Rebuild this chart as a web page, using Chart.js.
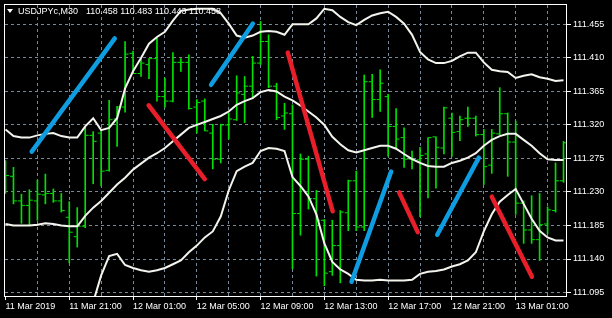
<!DOCTYPE html>
<html>
<head>
<meta charset="utf-8">
<script src="https://cdn.jsdelivr.net/npm/chart.js@4.4.1/dist/chart.umd.min.js"></script>
<style>
  html, body { margin: 0; background: #000; }
  #wrap { position: relative; width: 612px; height: 318px; }
  .hdr { position: absolute; top: 6px; color: #fff; font: 9px "Liberation Sans"; line-height: 10px; white-space: pre; }
  #arrow { position: absolute; left: 7px; top: 9px; width: 0; height: 0;
           border-left: 3px solid transparent; border-right: 3px solid transparent; border-top: 4px solid #fff; }
</style>
</head>
<body>
<div id="wrap">
  <canvas id="chart" width="612" height="318"></canvas>
  <div id="arrow"></div>
  <div class="hdr" style="left:18px">USDJPYc,M30</div>
  <div class="hdr" style="left:86px">110.458 110.483 110.443 110.458</div>
</div>
<script>
// USDJPYc M30 bars, 11 Mar 17:00 .. 13 Mar 04:00
const opens = [111.258, 111.251, 111.218, 111.212, 111.218, 111.226, 111.228, 111.218, 111.196, 111.170,
  111.184, 111.306, 111.309, 111.259, 111.328, 111.344, 111.416, 111.389, 111.401, 111.409,
  111.358, 111.352, 111.404, 111.404, 111.344, 111.352, 111.309, 111.274, 111.320, 111.327,
  111.361, 111.372, 111.403, 111.432, 111.372, 111.332, 111.335, 111.201, 111.274, 111.221,
  111.192, 111.123, 111.158, 111.202, 111.245, 111.183, 111.378, 111.354, 111.358, 111.318,
  111.303, 111.274, 111.273, 111.281, 111.304, 111.289, 111.329, 111.311, 111.329, 111.329,
  111.307, 111.266, 111.308, 111.335, 111.297, 111.215, 111.179, 111.166, 111.187, 111.205,
  111.245];
const highs = [111.272, 111.263, 111.227, 111.233, 111.246, 111.254, 111.234, 111.228, 111.217, 111.209,
  111.318, 111.311, 111.312, 111.353, 111.345, 111.432, 111.419, 111.409, 111.409, 111.437,
  111.383, 111.417, 111.409, 111.414, 111.354, 111.355, 111.321, 111.321, 111.336, 111.386,
  111.385, 111.412, 111.459, 111.441, 111.376, 111.349, 111.347, 111.281, 111.278, 111.232,
  111.193, 111.192, 111.205, 111.246, 111.258, 111.387, 111.388, 111.394, 111.361, 111.342,
  111.316, 111.285, 111.290, 111.303, 111.304, 111.344, 111.336, 111.332, 111.344, 111.332,
  111.314, 111.314, 111.370, 111.336, 111.325, 111.218, 111.225, 111.228, 111.210, 111.269,
  111.298];
const lows = [111.228, 111.214, 111.188, 111.185, 111.192, 111.214, 111.216, 111.203, 111.135, 111.156,
  111.182, 111.241, 111.238, 111.258, 111.291, 111.337, 111.389, 111.385, 111.382, 111.352,
  111.344, 111.351, 111.392, 111.341, 111.309, 111.312, 111.261, 111.269, 111.301, 111.326,
  111.323, 111.356, 111.401, 111.370, 111.327, 111.314, 111.127, 111.172, 111.207, 111.117,
  111.104, 111.118, 111.108, 111.178, 111.178, 111.178, 111.330, 111.338, 111.278, 111.289,
  111.263, 111.261, 111.197, 111.222, 111.235, 111.281, 111.278, 111.299, 111.318, 111.305,
  111.240, 111.255, 111.307, 111.251, 111.200, 111.161, 111.161, 111.138, 111.174, 111.203,
  111.243];
const closes = [111.252, 111.218, 111.212, 111.219, 111.227, 111.228, 111.218, 111.205, 111.176, 111.184,
  111.306, 111.298, 111.258, 111.327, 111.344, 111.415, 111.389, 111.403, 111.409, 111.358,
  111.352, 111.404, 111.404, 111.342, 111.350, 111.312, 111.274, 111.320, 111.328, 111.363,
  111.372, 111.403, 111.432, 111.372, 111.330, 111.336, 111.201, 111.274, 111.221, 111.192,
  111.121, 111.158, 111.203, 111.245, 111.183, 111.378, 111.354, 111.376, 111.318, 111.301,
  111.274, 111.273, 111.279, 111.303, 111.290, 111.343, 111.310, 111.327, 111.329, 111.307,
  111.264, 111.309, 111.335, 111.297, 111.215, 111.179, 111.166, 111.186, 111.206, 111.245,
  111.296];

// Bollinger bands
const bandUpper = [111.314, 111.305, 111.303, 111.303, 111.306, 111.308, 111.309, 111.305, 111.303, 111.303,
  111.318, 111.329, 111.313, 111.316, 111.329, 111.369, 111.392, 111.410, 111.429, 111.438,
  111.445, 111.460, 111.473, 111.475, 111.476, 111.476, 111.476, 111.470, 111.456, 111.440,
  111.437, 111.440, 111.445, 111.446, 111.445, 111.441, 111.455, 111.455, 111.455, 111.463,
  111.476, 111.474, 111.465, 111.458, 111.454, 111.461, 111.467, 111.470, 111.472, 111.465,
  111.456, 111.441, 111.418, 111.408, 111.403, 111.403, 111.406, 111.412, 111.417, 111.417,
  111.404, 111.394, 111.392, 111.391, 111.383, 111.386, 111.388, 111.384, 111.382, 111.379,
  111.380];
const bandMiddle = [111.187, 111.185, 111.185, 111.185, 111.186, 111.188, 111.187, 111.185, 111.184, 111.184,
  111.198, 111.209, 111.218, 111.229, 111.240, 111.249, 111.260, 111.268, 111.276, 111.282,
  111.289, 111.298, 111.307, 111.316, 111.320, 111.324, 111.328, 111.332, 111.338, 111.347,
  111.352, 111.356, 111.364, 111.367, 111.365, 111.358, 111.353, 111.346, 111.338, 111.330,
  111.320, 111.304, 111.294, 111.286, 111.283, 111.286, 111.289, 111.292, 111.292, 111.288,
  111.281, 111.274, 111.269, 111.265, 111.264, 111.264, 111.269, 111.272, 111.276, 111.282,
  111.292, 111.300, 111.305, 111.308, 111.308, 111.300, 111.292, 111.282, 111.274, 111.273,
  111.273];
const bandLower = [null, null, null, null, null, null, null, null, null, null,
  null, 111.082, 111.118, 111.144, 111.147, 111.132, 111.128, 111.125, 111.123, 111.125,
  111.128, 111.133, 111.138, 111.149, 111.158, 111.169, 111.177, 111.197, 111.232, 111.258,
  111.264, 111.269, 111.285, 111.289, 111.288, 111.285, 111.250, 111.238, 111.224, 111.200,
  111.161, 111.136, 111.126, 111.120, 111.112, 111.111, 111.111, 111.112, 111.111, 111.111,
  111.111, 111.112, 111.120, 111.123, 111.124, 111.126, 111.130, 111.133, 111.138, 111.149,
  111.177, 111.200, 111.217, 111.226, 111.234, 111.214, 111.194, 111.178, 111.169, 111.165,
  111.165];

// hand drawn trend lines: [barFrom, priceFrom, barTo, priceTo]
const blueLines = [
  [3.29, 111.2841, 13.71, 111.4361],
  [25.79, 111.3739, 31.04, 111.4561],
  [43.41, 111.1094, 48.38, 111.2574],
  [54.16, 111.1726, 59.38, 111.2761]
];
const redLines = [
  [17.96, 111.3463, 25.0, 111.2473],
  [35.41, 111.4170, 41.04, 111.2041],
  [49.38, 111.2294, 51.71, 111.1761],
  [61.0, 111.2237, 66.04, 111.1161]
];

const xTickBars = [0, 4, 8, 12, 16, 20, 24, 28, 32, 36, 40, 44, 48, 52, 56, 60, 64, 68];
const xLabels = ['11 Mar 2019', '11 Mar 21:00', '12 Mar 01:00', '12 Mar 05:00', '12 Mar 09:00',
  '12 Mar 13:00', '12 Mar 17:00', '12 Mar 21:00', '13 Mar 01:00'];
const yTicks = [111.095, 111.140, 111.185, 111.230, 111.275, 111.320, 111.365, 111.410, 111.455];

const barGreen = '#00e000';
const bandWhite = '#f4f4ee';
const gridGrey = '#778899';

const datasets = [];

blueLines.concat(redLines).forEach((l, k) => {
  datasets.push({
    type: 'line',
    data: [{x: l[0], y: l[1]}, {x: l[2], y: l[3]}],
    borderColor: k < blueLines.length ? '#0f9de2' : '#e81e2b',
    borderWidth: 4.5,
    borderCapStyle: 'round',
    pointRadius: 0,
    order: 0
  });
});

[bandUpper, bandMiddle, bandLower].forEach(b => {
  datasets.push({
    type: 'line',
    data: b.map((v, i) => ({x: i, y: v})),
    borderColor: bandWhite,
    borderWidth: 2,
    pointRadius: 0,
    tension: 0,
    spanGaps: false,
    order: 1
  });
});

// open tick to the left of the bar, close tick to the right
datasets.push({
  type: 'line',
  data: opens.map((v, i) => ({x: i - 0.25, y: v})),
  showLine: false,
  pointStyle: 'line',
  pointRadius: 1.5,
  pointBorderWidth: 1,
  pointBorderColor: barGreen,
  order: 2
});
datasets.push({
  type: 'line',
  data: closes.map((v, i) => ({x: i + 0.25, y: v})),
  showLine: false,
  pointStyle: 'line',
  pointRadius: 1.5,
  pointBorderWidth: 1,
  pointBorderColor: barGreen,
  order: 2
});

datasets.push({
  type: 'bar',
  data: highs.map((h, i) => ({x: i, y: [lows[i], h]})),
  backgroundColor: barGreen,
  barThickness: 1,
  grouped: false,
  order: 3
});

const frame = {
  id: 'frame',
  afterDatasetsDraw(chart) {
    const a = chart.chartArea;
    const ctx = chart.ctx;
    ctx.save();
    ctx.strokeStyle = '#ffffff';
    ctx.lineWidth = 1;
    ctx.strokeRect(a.left - 0.5, a.top - 0.5, a.right - a.left, a.bottom - a.top);
    ctx.restore();
  }
};

Chart.defaults.font.family = 'Liberation Sans';

new Chart(document.getElementById('chart'), {
  type: 'line',
  data: { datasets: datasets },
  plugins: [frame],
  options: {
    responsive: false,
    animation: false,
    events: [],
    layout: { padding: { left: 3, top: 3, right: 0, bottom: 0 } },
    plugins: { legend: { display: false }, tooltip: { enabled: false } },
    scales: {
      x: {
        type: 'linear',
        min: -0.0625,
        max: 70.4375,
        offset: false,
        afterBuildTicks: s => { s.ticks = xTickBars.map(v => ({value: v})); },
        afterFit: s => { s.height = 21; s.paddingLeft = 0; s.paddingRight = 0; },
        ticks: {
          autoSkip: false,
          maxRotation: 0,
          align: 'start',
          padding: 1,
          color: '#ffffff',
          font: { size: 9 },
          callback: v => (v % 8 === 0 ? xLabels[v / 8] : '')
        },
        grid: {
          offset: false,
          color: c => (c.tick && c.tick.value === 0 ? 'rgba(0,0,0,0)' : gridGrey),
          tickColor: c => (c.tick && c.tick.value % 8 === 0 ? '#ffffff' : 'rgba(0,0,0,0)'),
          tickLength: 3
        },
        border: { display: false, dash: [3, 3] }
      },
      y: {
        type: 'linear',
        position: 'right',
        min: 111.089,
        max: 111.481,
        afterBuildTicks: s => { s.ticks = yTicks.map(v => ({value: v})); },
        afterFit: s => { s.width = 45; s.paddingTop = 0; s.paddingBottom = 0; },
        ticks: {
          padding: 2,
          color: '#ffffff',
          font: { size: 9 },
          callback: v => v.toFixed(3)
        },
        grid: { color: gridGrey, tickColor: '#ffffff', tickLength: 4 },
        border: { display: false, dash: [3, 3] }
      }
    }
  }
});
</script>
</body>
</html>
